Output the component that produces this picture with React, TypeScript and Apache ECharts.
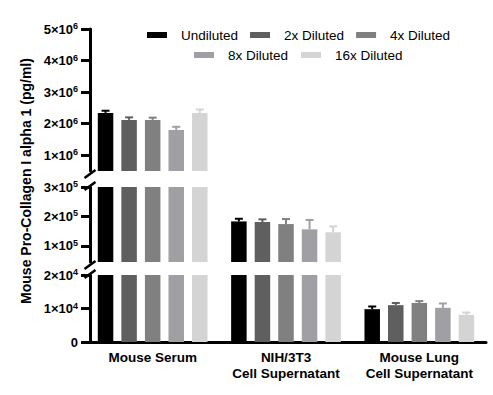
import React, { useEffect, useRef } from "react";
import * as echarts from "echarts";

// ---- data ----
const categories = ["Mouse Serum", "NIH/3T3\nCell Supernatant", "Mouse Lung\nCell Supernatant"];
const dilutions = ["Undiluted", "2x Diluted", "4x Diluted", "8x Diluted", "16x Diluted"];

const undiluted = [2.34e6, 1.83e5, 0.98e4];
const diluted2x = [2.12e6, 1.81e5, 1.10e4];
const diluted4x = [2.12e6, 1.74e5, 1.165e4];
const diluted8x = [1.80e6, 1.56e5, 1.02e4];
const diluted16x = [2.34e6, 1.46e5, 0.81e4];

const undilutedErr = [0.07e6, 0.09e5, 0.08e4];
const diluted2xErr = [0.08e6, 0.09e5, 0.065e4];
const diluted4xErr = [0.07e6, 0.17e5, 0.055e4];
const diluted8xErr = [0.10e6, 0.32e5, 0.13e4];
const diluted16xErr = [0.11e6, 0.20e5, 0.07e4];

const seg1Ticks = [1e6, 2e6, 3e6, 4e6, 5e6];
const seg2Ticks = [1e5, 2e5, 3e5];
const seg3Ticks = [0, 1e4, 2e4];
const segMin = [0.5e6, 0.45e5, 0];
const segMax = [5e6, 3e5, 2e4];

const yAxisTitle = "Mouse Pro-Collagen I alpha 1 (pg/ml)";

// ---- styles / layout ----
const colors = ["#000000", "#5f5f5f", "#808080", "#a0a0a4", "#d4d4d4"];
const FONT = '"Liberation Sans", Arial, sans-serif';
const GRID_LEFT = 86;
const GRID_RIGHT = 7;
const AXIS_X = GRID_LEFT + 4;
const grids = [
  { top: 29, height: 142 },
  { top: 187, height: 75 },
  { top: 275, height: 67 },
];
const BAR_W = 15.5;
const BAR_GAP = 0.52;
const STEP = BAR_W * (1 + BAR_GAP);

const values = [undiluted, diluted2x, diluted4x, diluted8x, diluted16x];
const errors = [undilutedErr, diluted2xErr, diluted4xErr, diluted8xErr, diluted16xErr];
const ticks = [seg1Ticks, seg2Ticks, seg3Ticks];

function fmt(v: number) {
  if (v === 0) return "{m|0}";
  const e = Math.floor(Math.log10(v) + 1e-9);
  const m = Math.round(v / Math.pow(10, e));
  return `{m|${m}×10}{e|${e}}`;
}

export default function App() {
  const ref = useRef<HTMLDivElement>(null);
  useEffect(() => {
    if (!ref.current) return;
    const chart = echarts.init(ref.current, undefined, { renderer: "svg" });

    const errData: any[] = [];
    for (let c = 0; c < categories.length; c++) {
      for (let d = 0; d < dilutions.length; d++) {
        errData.push([c, d, values[d][c], errors[d][c]]);
      }
    }

    const series: any[] = [];
    grids.forEach((_, g) => {
      dilutions.forEach((name, d) => {
        series.push({
          type: "bar",
          name,
          xAxisIndex: g,
          yAxisIndex: g,
          data: values[d],
          barWidth: BAR_W,
          barGap: `${BAR_GAP * 100}%`,
          itemStyle: { color: colors[d] },
          clip: true,
        });
      });
      series.push({
        type: "custom",
        name: "err" + g,
        xAxisIndex: g,
        yAxisIndex: g,
        clip: true,
        data: errData,
        renderItem: (params: any, api: any) => {
          const c = api.value(0);
          const d = api.value(1);
          const mean = api.value(2);
          const err = api.value(3);
          const base = api.coord([c, mean]);
          const top = api.coord([c, mean + err]);
          const x = base[0] + (d - 2) * STEP;
          const col = colors[d];
          return {
            type: "group",
            children: [
              { type: "line", shape: { x1: x, y1: base[1], x2: x, y2: top[1] }, style: { stroke: col, lineWidth: 2 } },
              { type: "line", shape: { x1: x - 4, y1: top[1], x2: x + 4, y2: top[1] }, style: { stroke: col, lineWidth: 2 } },
            ],
          };
        },
      });
    });

    const slashY = [
      grids[0].top + grids[0].height + 3,
      grids[1].top - 1,
      grids[1].top + grids[1].height + 3,
      grids[2].top - 1,
    ];

    const legendCommon = {
      icon: "rect",
      itemWidth: 20,
      itemHeight: 6,
      textStyle: { fontSize: 13.5, fontFamily: FONT, color: "#000", padding: [0, 0, 0, 9] },
      selectedMode: false,
    };

    chart.setOption({
      animation: false,
      legend: [
        { ...legendCommon, data: dilutions.slice(0, 3), left: 142, top: 23, itemGap: 12 },
        { ...legendCommon, data: dilutions.slice(3), left: 189, top: 43, itemGap: 13 },
      ],
      grid: grids.map((g) => ({ left: GRID_LEFT, right: GRID_RIGHT, top: g.top, height: g.height })),
      xAxis: grids.map((_, g) => ({
        type: "category",
        gridIndex: g,
        data: categories,
        show: g === 2,
        axisLine: { lineStyle: { color: "#000", width: 3 } },
        axisTick: { alignWithLabel: true, length: 5, lineStyle: { color: "#000", width: 3 } },
        axisLabel: {
          interval: 0,
          fontSize: 13.5,
          fontWeight: "bold",
          fontFamily: FONT,
          color: "#000",
          lineHeight: 16,
          margin: 7,
        },
      })),
      yAxis: grids.map((_, g) => ({
        type: "value",
        gridIndex: g,
        min: segMin[g],
        max: segMax[g],
        offset: -4,
        splitLine: { show: false },
        axisLine: { show: true, lineStyle: { color: "#000", width: 3 } },
        axisTick: { show: true, length: 9, lineStyle: { color: "#000", width: 3 }, customValues: ticks[g] },
        axisLabel: {
          customValues: ticks[g],
          margin: 12,
          color: "#000",
          formatter: fmt,
          fontSize: 13,
          fontWeight: "bold",
          fontFamily: FONT,
          rich: {
            m: { fontSize: 13, fontWeight: "bold", fontFamily: FONT, color: "#000", lineHeight: 15 },
            e: { fontSize: 9, fontWeight: "bold", fontFamily: FONT, color: "#000", lineHeight: 9, verticalAlign: "top" },
          },
        },
      })),
      graphic: [
        {
          type: "text",
          x: 26,
          y: 181,
          rotation: Math.PI / 2,
          style: {
            text: yAxisTitle,
            fontSize: 14,
            fontWeight: "bold",
            fontFamily: FONT,
            fill: "#000",
            textAlign: "center",
            textVerticalAlign: "middle",
            align: "center",
            verticalAlign: "middle",
          },
        },
        ...slashY.map((cy) => ({
          type: "line",
          shape: { x1: AXIS_X - 5.5, y1: cy + 4, x2: AXIS_X + 5.5, y2: cy - 4 },
          style: { stroke: "#000", lineWidth: 2.5 },
        })),
      ],
      series,
    });
    return () => chart.dispose();
  }, []);
  return <div ref={ref} style={{ position: "absolute", left: 0, top: 0, width: 493, height: 395 }} />;
}
